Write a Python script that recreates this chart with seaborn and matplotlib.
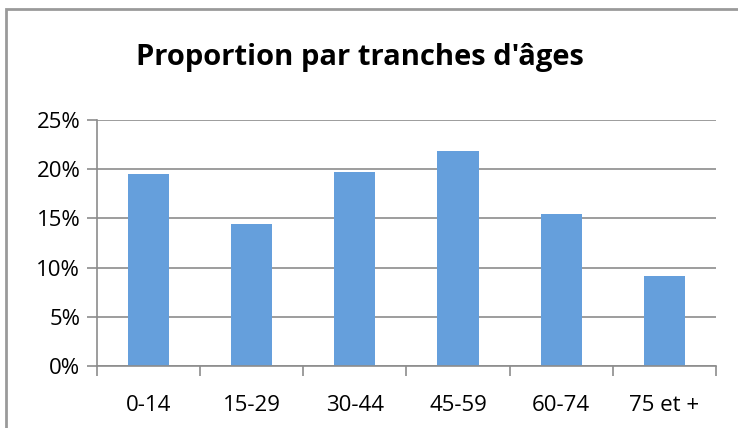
import matplotlib
matplotlib.use("Agg")
import matplotlib.pyplot as plt
import seaborn as sns
import pandas as pd
from matplotlib.patches import Rectangle
from matplotlib.ticker import FuncFormatter

categories = ["0-14", "15-29", "30-44", "45-59", "60-74", "75 et +"]
proportions = [0.195, 0.144, 0.197, 0.219, 0.154, 0.091]
y_ticks = [0, 0.05, 0.10, 0.15, 0.20, 0.25]

df = pd.DataFrame({"Tranche": categories, "Proportion": proportions})

sns.set_style("white")
plt.rcParams["font.family"] = ["Open Sans", "DejaVu Sans"]

fig = plt.figure(figsize=(7.38, 4.28), dpi=100)
ax = fig.add_axes([0.1314, 0.1449, 0.8386, 0.5747])

sns.barplot(data=df, x="Tranche", y="Proportion", color="#659FDC",
            width=0.4, saturation=1, linewidth=0, ax=ax)

grid_col = "#8c8c8c"
ax.set_xlim(-0.5, 5.5)
ax.set_ylim(0, 0.25)
ax.set_yticks(y_ticks)
ax.yaxis.set_major_formatter(FuncFormatter(lambda v, p: f"{v*100:.0f}%"))
ax.grid(axis="y", color=grid_col, linewidth=1.2)
ax.set_axisbelow(True)

for s in ["top", "right"]:
    ax.spines[s].set_visible(False)
for s in ["left", "bottom"]:
    ax.spines[s].set_color(grid_col)
    ax.spines[s].set_linewidth(1.2)

ax.tick_params(axis="y", length=7, width=1.2, color=grid_col, labelsize=16,
               labelcolor="black", pad=5, left=True)
ax.tick_params(axis="x", which="major", length=0, labelsize=16,
               labelcolor="black", pad=21)
ax.set_xticks([i - 0.5 for i in range(7)], minor=True)
ax.tick_params(axis="x", which="minor", length=7, width=1.2, color=grid_col, bottom=True)
ax.set_xlabel("")
ax.set_ylabel("")

fig.text(0.488, 0.866, "Proportion par tranches d'âges", ha="center", va="center",
         fontsize=21, fontweight="bold", color="black")

fig.patches.append(Rectangle((0.0088, -0.2), 2, 0.979 + 0.2, transform=fig.transFigure,
                             fill=False, edgecolor="#9a9a9a", linewidth=2))

fig.savefig("out.png", dpi=100)
